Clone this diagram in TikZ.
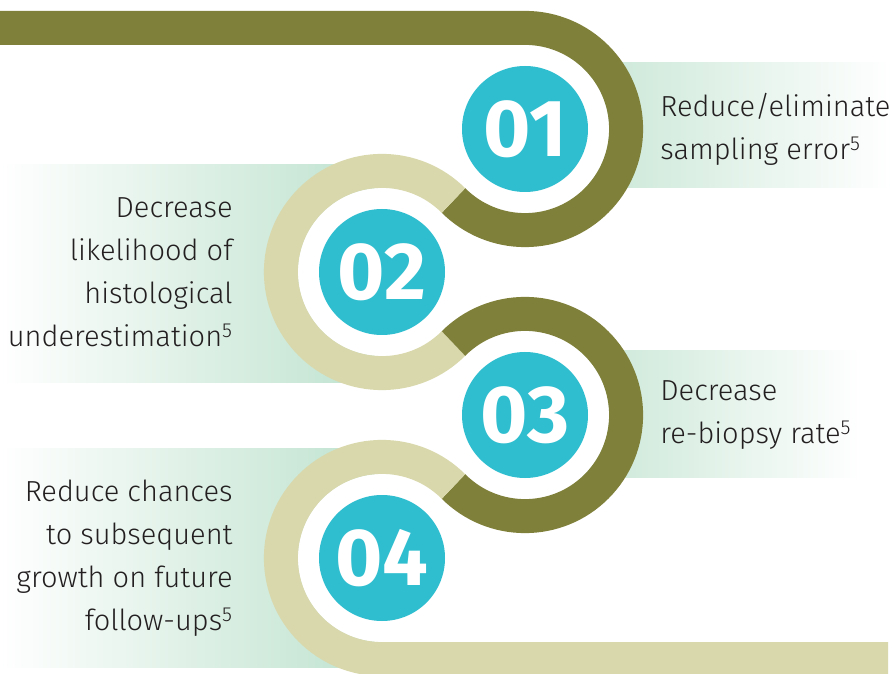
\documentclass[tikz,border=0pt]{standalone}
\usepackage{fontspec}
\setmainfont{Fira Sans Light}[BoldFont=Fira Sans Bold]
\usepackage{xcolor}
\usetikzlibrary{positioning,backgrounds}

\definecolor{ringdark}{RGB}{127,128,57}
\definecolor{ringlight}{RGB}{217,216,172}
\definecolor{tealfill}{RGB}{47,190,207}
\definecolor{mintband}{RGB}{190,226,206}
\definecolor{txtgray}{RGB}{35,31,32}

\begin{document}
\begin{tikzpicture}[
  x=1pt, y=1pt,
  num/.style={circle, fill=tealfill, minimum size=126pt, inner sep=0pt,
              text=white, font=\fontsize{81}{81}\selectfont\bfseries},
  txt/.style={text=txtgray, inner sep=0pt, font=\fontsize{29}{43}\selectfont},
  ring/.style={line width=34pt},
  gap/.style={fill=white, circle, minimum size=168.2pt, inner sep=0pt},
]
  \useasboundingbox (0,0) rectangle (892,673);

  \node[num] (n01) at (525,544) {01};
  \node[num] (n02) at (382,401) {02};
  \node[num] (n03) at (525,258) {03};
  \node[num] (n04) at (382,115) {04};

  \node[txt, align=left, right=72pt of n01] (t01)
    {Reduce/eliminate\\sampling error\textsuperscript{5}};
  \node[txt, align=right, left=86pt of n02] (t02)
    {Decrease\\likelihood of\\histological\\underestimation\textsuperscript{5}};
  \node[txt, align=left, right=72pt of n03] (t03)
    {Decrease\\re-biopsy rate\textsuperscript{5}};
  \node[txt, align=right, left=86pt of n04] (t04)
    {Reduce chances\\to subsequent\\growth on future\\follow-ups\textsuperscript{5}};

  \begin{scope}[on background layer]
    % fading bands behind the texts
    \shade[left color=mintband, right color=white] (525,485) rectangle (892,610);
    \shade[left color=white, right color=mintband] (0,290) rectangle (382,508);
    \shade[left color=mintband, right color=white] (525,196) rectangle (862,322);
    \shade[left color=white, right color=mintband] (0,6) rectangle (382,225);
    \foreach \n in {n01,n02,n03,n04}
      \node[gap] at (\n.center) {};

    % winding ribbon
    \draw[ring, draw=ringdark] (0,645.1) -- ([yshift=101.1pt]n01.center)
      arc[start angle=90, end angle=-135, radius=101.1pt];
    \draw[ring, draw=ringlight] ([shift={(45:101.1pt)}]n02.center)
      arc[start angle=45, end angle=315, radius=101.1pt];
    \draw[ring, draw=ringdark] ([shift={(135:101.1pt)}]n03.center)
      arc[start angle=135, end angle=-135, radius=101.1pt];
    \draw[ring, draw=ringlight] ([shift={(45:101.1pt)}]n04.center)
      arc[start angle=45, end angle=270, radius=101.1pt] -- (888,13.9);
  \end{scope}
\end{tikzpicture}
\end{document}
